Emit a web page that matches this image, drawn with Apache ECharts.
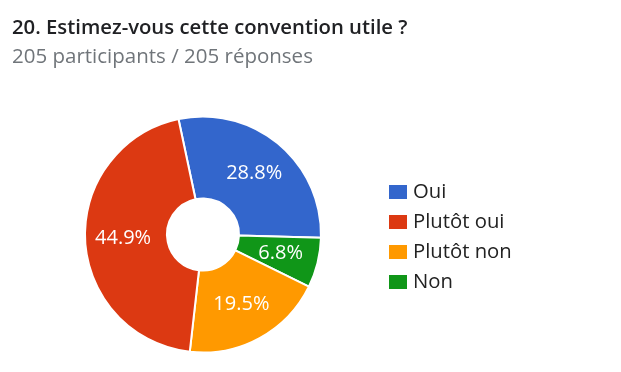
<!DOCTYPE html>
<html><head><meta charset="utf-8">
<script src="https://cdn.jsdelivr.net/npm/echarts@6/dist/echarts.min.js"></script>
<style>html,body{margin:0;padding:0;background:#fff}#c{width:621px;height:372px}</style>
</head><body><div id="c"></div>
<script>
var titleText = "20. Estimez-vous cette convention utile ?";
var subtitleText = "205 participants / 205 réponses";
// slice order clockwise from the top
var categories = ["Oui", "Non", "Plutôt non", "Plutôt oui"];
var counts = [59, 14, 40, 92];
var colors = ["#3366cc", "#109618", "#ff9900", "#dc3912"];
var legendOrder = ["Oui", "Plutôt oui", "Plutôt non", "Non"];

var chart = echarts.init(document.getElementById('c'), null, {renderer: 'canvas'});
chart.setOption({
  animation: false,
  textStyle: {fontFamily: 'Open Sans'},
  title: [{
    text: titleText,
    left: 7,
    top: 18,
    padding: [0, 5],
    textStyle: {fontFamily: 'Open Sans', fontSize: 20.3, fontWeight: 600, color: '#202124'}
  }, {
    text: subtitleText,
    left: 7,
    top: 47,
    padding: [0, 5],
    textStyle: {fontFamily: 'Open Sans', fontSize: 20.5, fontWeight: 'normal', color: '#70757a'}
  }],
  legend: {
    orient: 'vertical',
    left: 387,
    top: 182,
    padding: 0,
    data: legendOrder,
    icon: 'rect',
    itemWidth: 20,
    itemHeight: 16,
    itemGap: 10,
    textStyle: {fontFamily: 'Open Sans', fontSize: 20.3, color: '#222', lineHeight: 20}
  },
  series: [{
    type: 'pie',
    center: [203, 234.5],
    radius: [36, 118],
    startAngle: 102,
    clockwise: true,
    percentPrecision: 1,
    avoidLabelOverlap: false,
    itemStyle: {borderColor: '#fff', borderWidth: 2},
    label: {show: true, position: 'inside', formatter: '{d}%', color: '#fff', fontSize: 20, fontFamily: 'Open Sans'},
    labelLine: {show: false},
    emphasis: {disabled: true},
    data: categories.map(function (n, i) {
      return {name: n, value: counts[i], itemStyle: {color: colors[i]}};
    })
  }]
});
</script></body></html>
